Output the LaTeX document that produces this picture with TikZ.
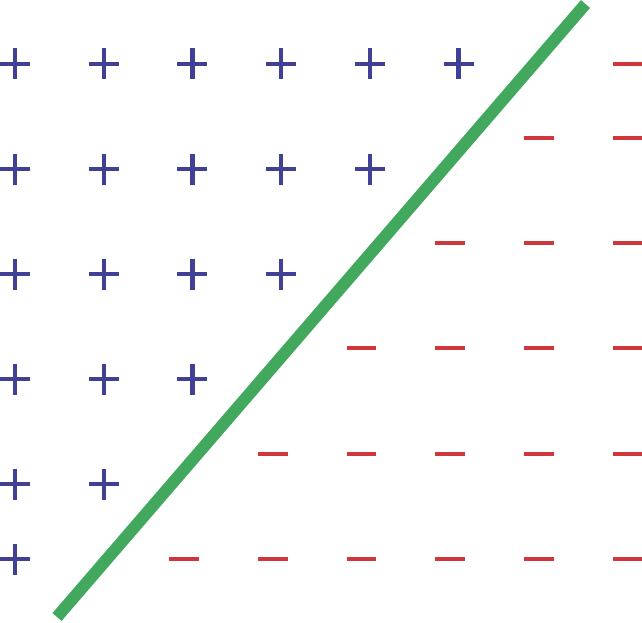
\documentclass[tikz,border=0pt]{standalone}
\definecolor{plusblue}{RGB}{64,64,148}
\definecolor{minusred}{RGB}{208,55,60}
\definecolor{sepgreen}{RGB}{66,168,94}
\begin{document}
\begin{tikzpicture}[x=1pt,y=-1pt,
  plusmark/.style={draw=plusblue,line width=4.4pt},
  minusmark/.style={draw=minusred,line width=4.6pt},
  separator/.style={draw=sepgreen,line width=12pt}]
\useasboundingbox (0,0) rectangle (642,623);
% positive samples
\foreach \y/\n in {64/5,169/4,274/3,379/2,484/1,559/0}{
  \foreach \i in {0,...,\n}{
    \pgfmathsetmacro\xx{15+88.7*\i}
    \draw[plusmark] (\xx-15,\y) -- (\xx+15,\y) (\xx,\y-15.5) -- (\xx,\y+15.5);
  }}
% negative samples
\foreach \y/\s in {64/5,138/4,243/3,348/2,454/1,559/0}{
  \foreach \i in {\s,...,5}{
    \pgfmathsetmacro\xx{184+88.7*\i}
    \draw[minusmark] (\xx-14.8,\y) -- (\xx+14.8,\y);
  }}
% separating line
\coordinate (lo) at (57,617);
\coordinate (hi) at (585.5,4);
\draw[separator] (lo) -- (hi);
\end{tikzpicture}
\end{document}
